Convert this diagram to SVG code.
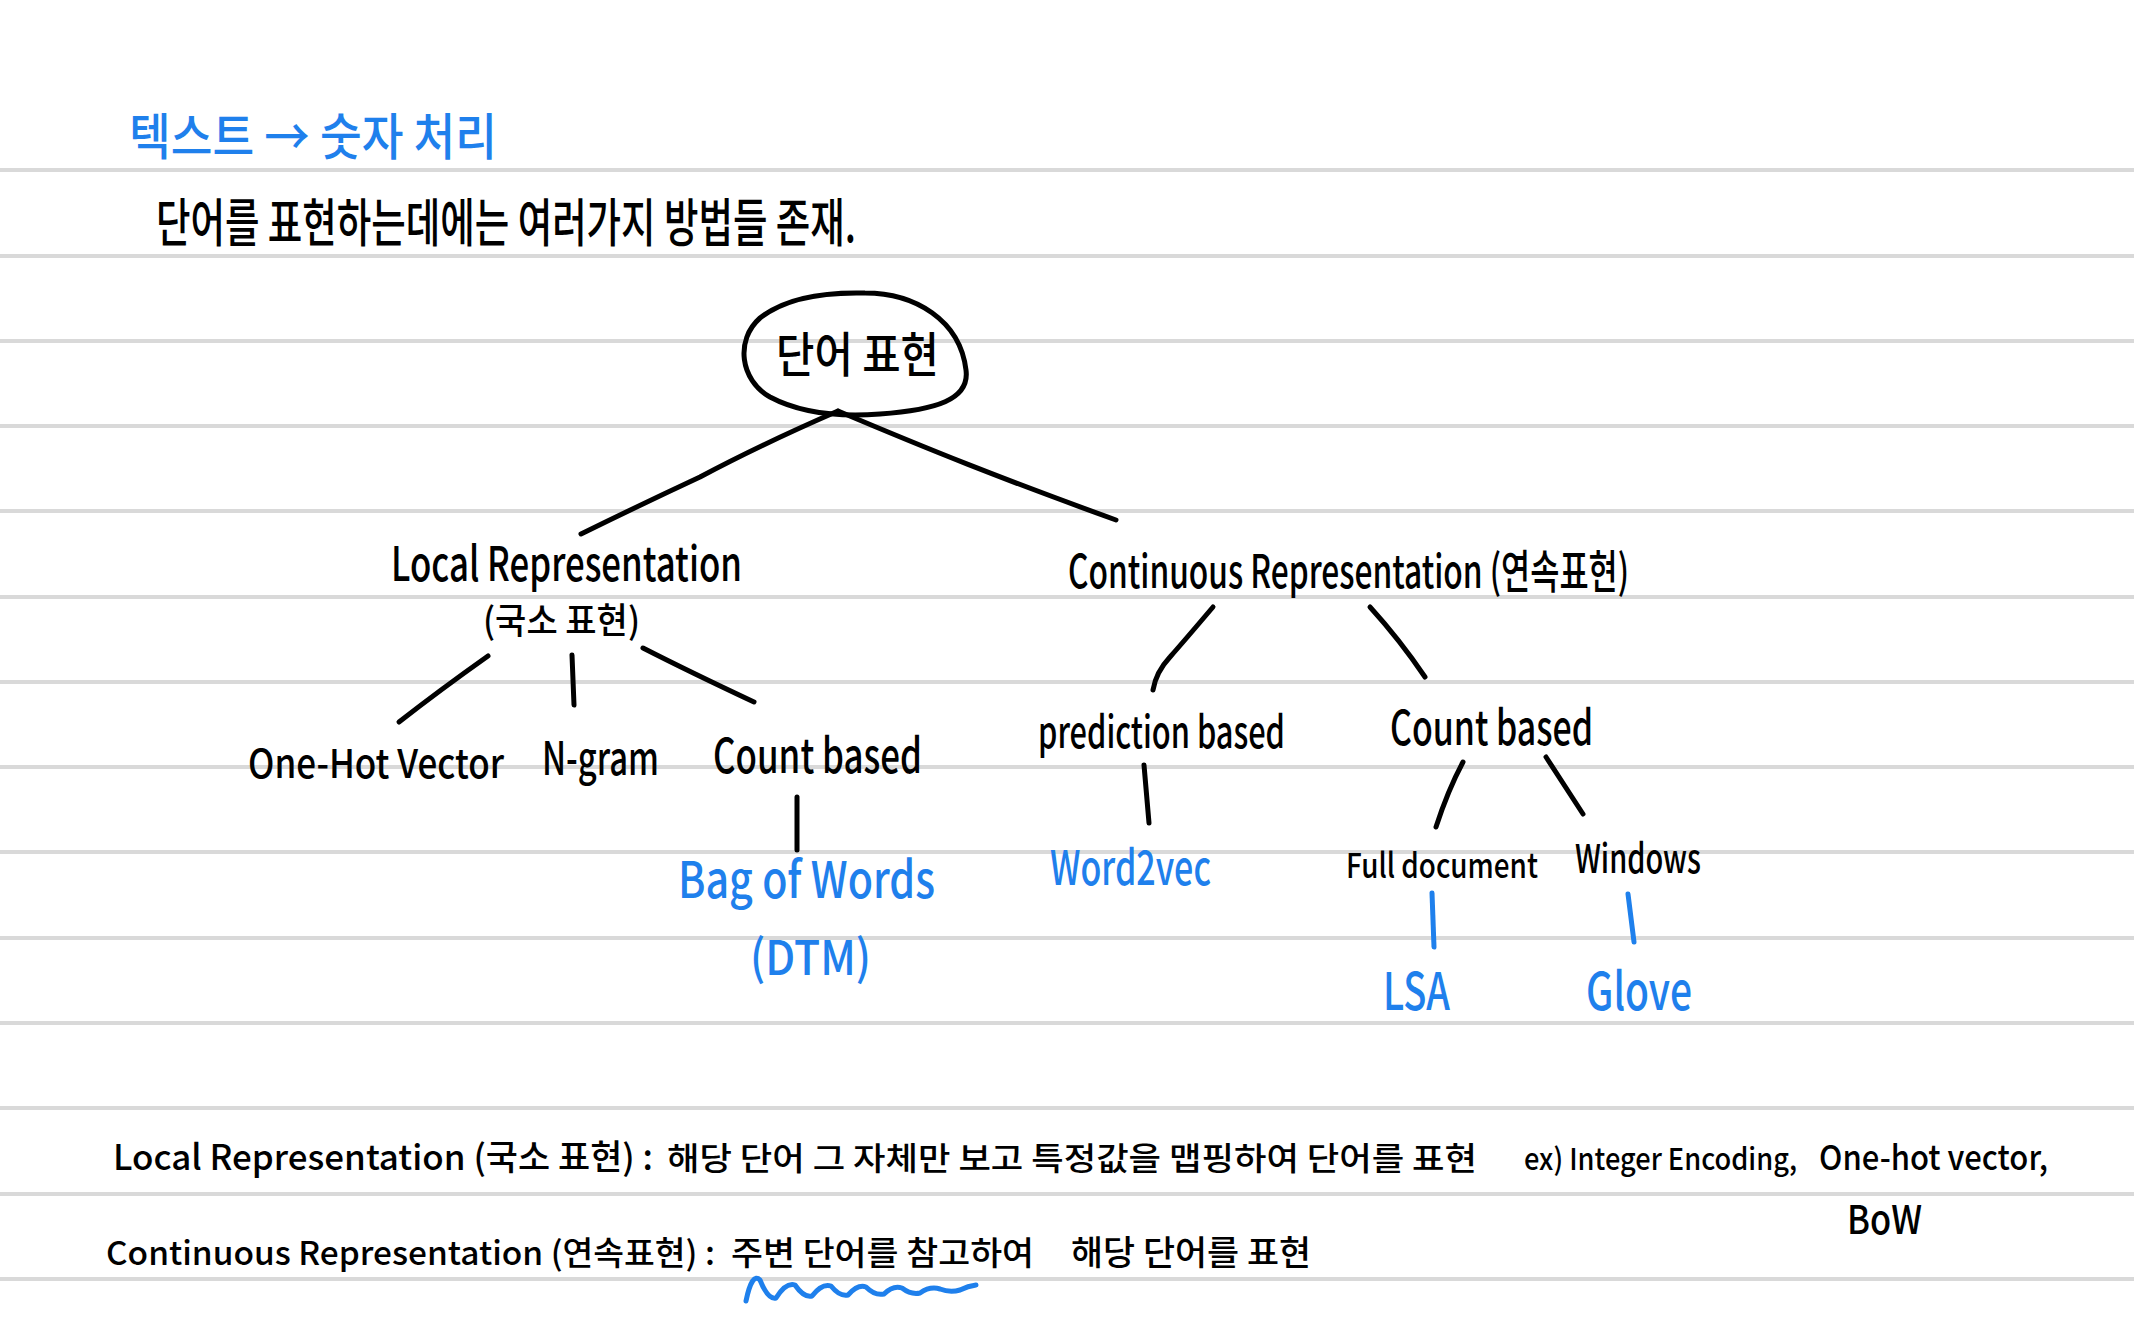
<svg xmlns="http://www.w3.org/2000/svg" width="2134" height="1343" viewBox="0 0 2134 1343">
<style>
.rule{stroke:#d9d9d9;stroke-width:4}
.t{font-family:"Noto Sans CJK KR","Noto Sans",sans-serif;font-weight:500}
.k{fill:#000}
.b{fill:#1f80ec}
.c{fill:none;stroke:#000;stroke-width:5;stroke-linecap:round;stroke-linejoin:round}
.cb{fill:none;stroke:#1f80ec;stroke-width:5;stroke-linecap:round;stroke-linejoin:round}
</style>
<rect x="0" y="0" width="2134" height="1343" fill="#fff"/>
<g id="rules">
<line class="rule" x1="0" y1="170" x2="2134" y2="170"/>
<line class="rule" x1="0" y1="256" x2="2134" y2="256"/>
<line class="rule" x1="0" y1="341" x2="2134" y2="341"/>
<line class="rule" x1="0" y1="426" x2="2134" y2="426"/>
<line class="rule" x1="0" y1="511" x2="2134" y2="511"/>
<line class="rule" x1="0" y1="597" x2="2134" y2="597"/>
<line class="rule" x1="0" y1="682" x2="2134" y2="682"/>
<line class="rule" x1="0" y1="767" x2="2134" y2="767"/>
<line class="rule" x1="0" y1="852" x2="2134" y2="852"/>
<line class="rule" x1="0" y1="938" x2="2134" y2="938"/>
<line class="rule" x1="0" y1="1023" x2="2134" y2="1023"/>
<line class="rule" x1="0" y1="1108" x2="2134" y2="1108"/>
<line class="rule" x1="0" y1="1194" x2="2134" y2="1194"/>
<line class="rule" x1="0" y1="1279" x2="2134" y2="1279"/>
</g>
<g id="heading">
<text class="t b" x="129" y="155" font-size="50" textLength="368" lengthAdjust="spacingAndGlyphs">텍스트 → 숫자 처리</text>
<text class="t k" x="156" y="242" font-size="52" textLength="700" lengthAdjust="spacingAndGlyphs">단어를 표현하는데에는 여러가지 방법들 존재.</text>
</g>
<g id="connectors">
<path class="c" d="M 838 411 Q 760 445 700 477 Q 640 505 581 534"/>
<path class="c" d="M 838 411 C 930 450, 1000 478, 1116 520"/>
<path class="c" d="M 488 656 Q 440 690 399 722"/>
<path class="c" d="M 572 655 L 574 705"/>
<path class="c" d="M 643 648 Q 690 672 754 702"/>
<path class="c" d="M 797 797 L 797 850"/>
<path class="c" d="M 1213 607 Q 1185 640 1170 657 Q 1156 672 1153 690"/>
<path class="c" d="M 1370 607 Q 1400 640 1425 677"/>
<path class="c" d="M 1144 765 L 1149 823"/>
<path class="c" d="M 1463 762 Q 1448 790 1436 827"/>
<path class="c" d="M 1546 757 L 1583 814"/>
<path class="cb" d="M 1432 893 L 1434 947"/>
<path class="cb" d="M 1628 894 L 1634 942"/>
</g>
<g id="root">
<path class="c" d="M 865 293 C 915 293, 960 320, 966 370 C 970 400, 935 410, 880 414 C 840 417, 800 413, 770 397 C 740 380, 735 340, 760 318 C 785 298, 825 292, 865 293 Z"/>
<text class="t k" x="776" y="372" font-size="48" textLength="163" lengthAdjust="spacingAndGlyphs">단어 표현</text>
</g>
<g id="local">
<text class="t k" x="391" y="581" font-size="48" textLength="351" lengthAdjust="spacingAndGlyphs">Local Representation</text>
<text class="t k" x="483" y="634" font-size="36" textLength="157" lengthAdjust="spacingAndGlyphs">(국소 표현)</text>
</g>
<g id="continuous">
<text class="t k" x="1068" y="588" font-size="46" textLength="561" lengthAdjust="spacingAndGlyphs">Continuous Representation (연속표현)</text>
</g>
<g id="one-hot">
<text class="t k" x="248" y="778" font-size="40" textLength="256" lengthAdjust="spacingAndGlyphs">One-Hot Vector</text>
</g>
<g id="n-gram">
<text class="t k" x="542" y="775" font-size="46" textLength="117" lengthAdjust="spacingAndGlyphs">N-gram</text>
</g>
<g id="count-local">
<text class="t k" x="713" y="773" font-size="48" textLength="209" lengthAdjust="spacingAndGlyphs">Count based</text>
</g>
<g id="bow">
<text class="t b" x="678" y="898" font-size="50" textLength="257" lengthAdjust="spacingAndGlyphs">Bag of Words</text>
<text class="t b" x="750" y="975" font-size="48" textLength="121" lengthAdjust="spacingAndGlyphs">(DTM)</text>
</g>
<g id="prediction">
<text class="t k" x="1038" y="748" font-size="44" textLength="247" lengthAdjust="spacingAndGlyphs">prediction based</text>
</g>
<g id="count-cont">
<text class="t k" x="1390" y="745" font-size="48" textLength="203" lengthAdjust="spacingAndGlyphs">Count based</text>
</g>
<g id="word2vec">
<text class="t b" x="1050" y="885" font-size="48" textLength="161" lengthAdjust="spacingAndGlyphs">Word2vec</text>
</g>
<g id="full-document">
<text class="t k" x="1346" y="878" font-size="34" textLength="192" lengthAdjust="spacingAndGlyphs">Full document</text>
</g>
<g id="windows">
<text class="t k" x="1575" y="873" font-size="40" textLength="126" lengthAdjust="spacingAndGlyphs">Windows</text>
</g>
<g id="lsa">
<text class="t b" x="1383" y="1010" font-size="52" textLength="67" lengthAdjust="spacingAndGlyphs">LSA</text>
</g>
<g id="glove">
<text class="t b" x="1586" y="1010" font-size="52" textLength="106" lengthAdjust="spacingAndGlyphs">Glove</text>
</g>
<g id="notes">
<text class="t k" x="113" y="1170" font-size="35" textLength="540" lengthAdjust="spacingAndGlyphs">Local Representation (국소 표현) :</text>
<text class="t k" x="667" y="1170" font-size="32" textLength="810" lengthAdjust="spacingAndGlyphs">해당 단어 그 자체만 보고 특정값을 맵핑하여 단어를 표현</text>
<text class="t k" x="1524" y="1170" font-size="30" textLength="273" lengthAdjust="spacingAndGlyphs">ex) Integer Encoding,</text>
<text class="t k" x="1819" y="1170" font-size="34" textLength="229" lengthAdjust="spacingAndGlyphs">One-hot vector,</text>
<text class="t k" x="1847" y="1234" font-size="40" textLength="75" lengthAdjust="spacingAndGlyphs">BoW</text>
<text class="t k" x="106" y="1265" font-size="33" textLength="609" lengthAdjust="spacingAndGlyphs">Continuous Representation (연속표현) :</text>
<text class="t k" x="731" y="1265" font-size="33" textLength="303" lengthAdjust="spacingAndGlyphs">주변 단어를 참고하여</text>
<text class="t k" x="1071" y="1265" font-size="34" textLength="240" lengthAdjust="spacingAndGlyphs">해당 단어를 표현</text>
<path class="cb" d="M 746 1301 Q 752 1272 760 1280 Q 768 1300 776 1298 Q 786 1282 795 1285 Q 804 1298 812 1296 Q 822 1283 831 1286 Q 840 1297 848 1295 Q 858 1284 866 1287 Q 875 1296 884 1294 Q 893 1285 902 1288 Q 911 1295 920 1293 Q 930 1286 940 1289 Q 950 1293 960 1290 Q 968 1286 976 1285"/>
</g>
</svg>
